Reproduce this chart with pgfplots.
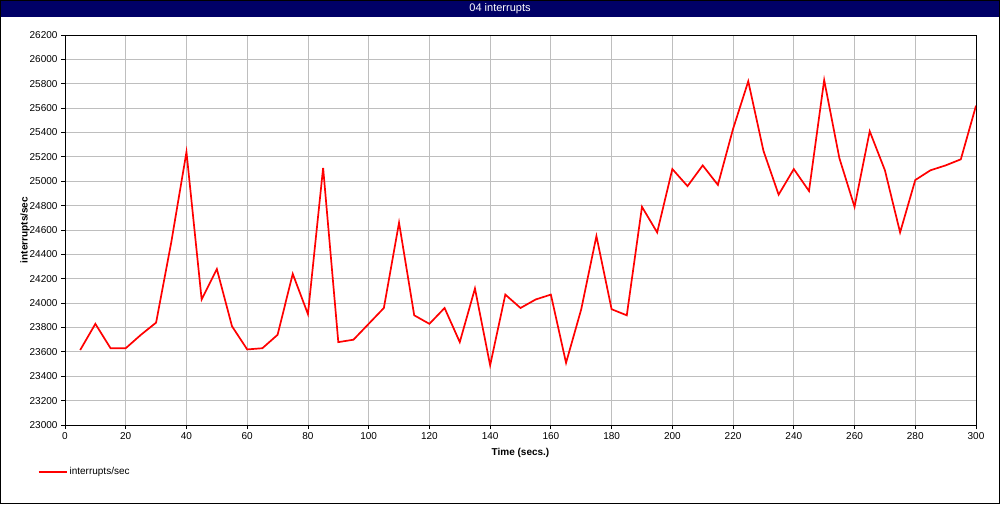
\documentclass[border=0pt]{standalone}
\usepackage{pgfplots}
\pgfplotsset{compat=1.18}
\usepackage{fontspec}
\setmainfont{Liberation Sans}
\definecolor{navy}{RGB}{0,0,102}
\definecolor{gridgray}{RGB}{190,190,190}
\begin{document}
\begin{tikzpicture}[x=1pt,y=1pt]
\useasboundingbox (0,0) rectangle (1000,504);
\fill[navy] (0,487) rectangle (1000,504);
\node[text=white,font=\fontsize{11}{13}\selectfont] at (500,495.5) {04 interrupts};
\draw[black,line width=1pt] (0.5,0.5) rectangle (999.5,503.5);
\begin{axis}[
  at={(65pt,79pt)}, anchor=south west,
  width=911pt, height=390pt, scale only axis,
  xmin=0, xmax=300, ymin=23000, ymax=26200,
  xtick={0,20,...,300}, ytick={23000,23200,...,26200},
  scaled ticks=false,
  grid=major, major grid style={gridgray, line width=0.8pt},
  axis line style={black, line width=0.9pt},
  tick style={black, line width=0.8pt},
  tick align=outside, major tick length=4pt,
  xtick pos=bottom, ytick pos=left,
  yticklabel style={/pgf/number format/.cd, fixed, precision=0, 1000 sep={}, assume math mode=true},
  xticklabel style={/pgf/number format/.cd, fixed, 1000 sep={}, assume math mode=true},
  ticklabel style={font=\fontsize{10}{12}\selectfont},
  xlabel={\textbf{Time (secs.)}},
  ylabel={\textbf{interrupts/sec}},
  label style={font=\fontsize{10}{12}\selectfont},
  xlabel style={at={(axis description cs:0.5,-0.0718)}, anchor=center},
  ylabel style={at={(axis description cs:-0.0439,0.5)}, anchor=center},
  legend style={at={(axis description cs:-0.03,-0.12)}, anchor=west, draw=none, fill=none, font=\fontsize{10}{12}\selectfont, inner sep=0pt},
  legend image code/.code={\draw[#1] (0pt,0pt) -- (28pt,0pt);},
]
\addplot[red, line width=1.7pt] coordinates {
(5,23615) (10,23830) (15,23630) (20,23630) (25,23740) (30,23840)
(35,24500) (40,25240) (45,24030) (50,24280) (55,23810) (60,23620)
(65,23630) (70,23740) (75,24240) (80,23910) (85,25110) (90,23680)
(95,23700) (100,23830) (105,23960) (110,24660) (115,23900) (120,23830)
(125,23960) (130,23680) (135,24120) (140,23490) (145,24070) (150,23960)
(155,24030) (160,24070) (165,23510) (170,23950) (175,24550) (180,23950)
(185,23900) (190,24790) (195,24580) (200,25100) (205,24960) (210,25130)
(215,24970) (220,25430) (225,25820) (230,25250) (235,24890) (240,25100)
(245,24920) (250,25830) (255,25190) (260,24790) (265,25410) (270,25090)
(275,24580) (280,25010) (285,25090) (290,25130) (295,25180) (300,25620)
};
\addlegendentry{interrupts/sec}
\end{axis}
\end{tikzpicture}
\end{document}
